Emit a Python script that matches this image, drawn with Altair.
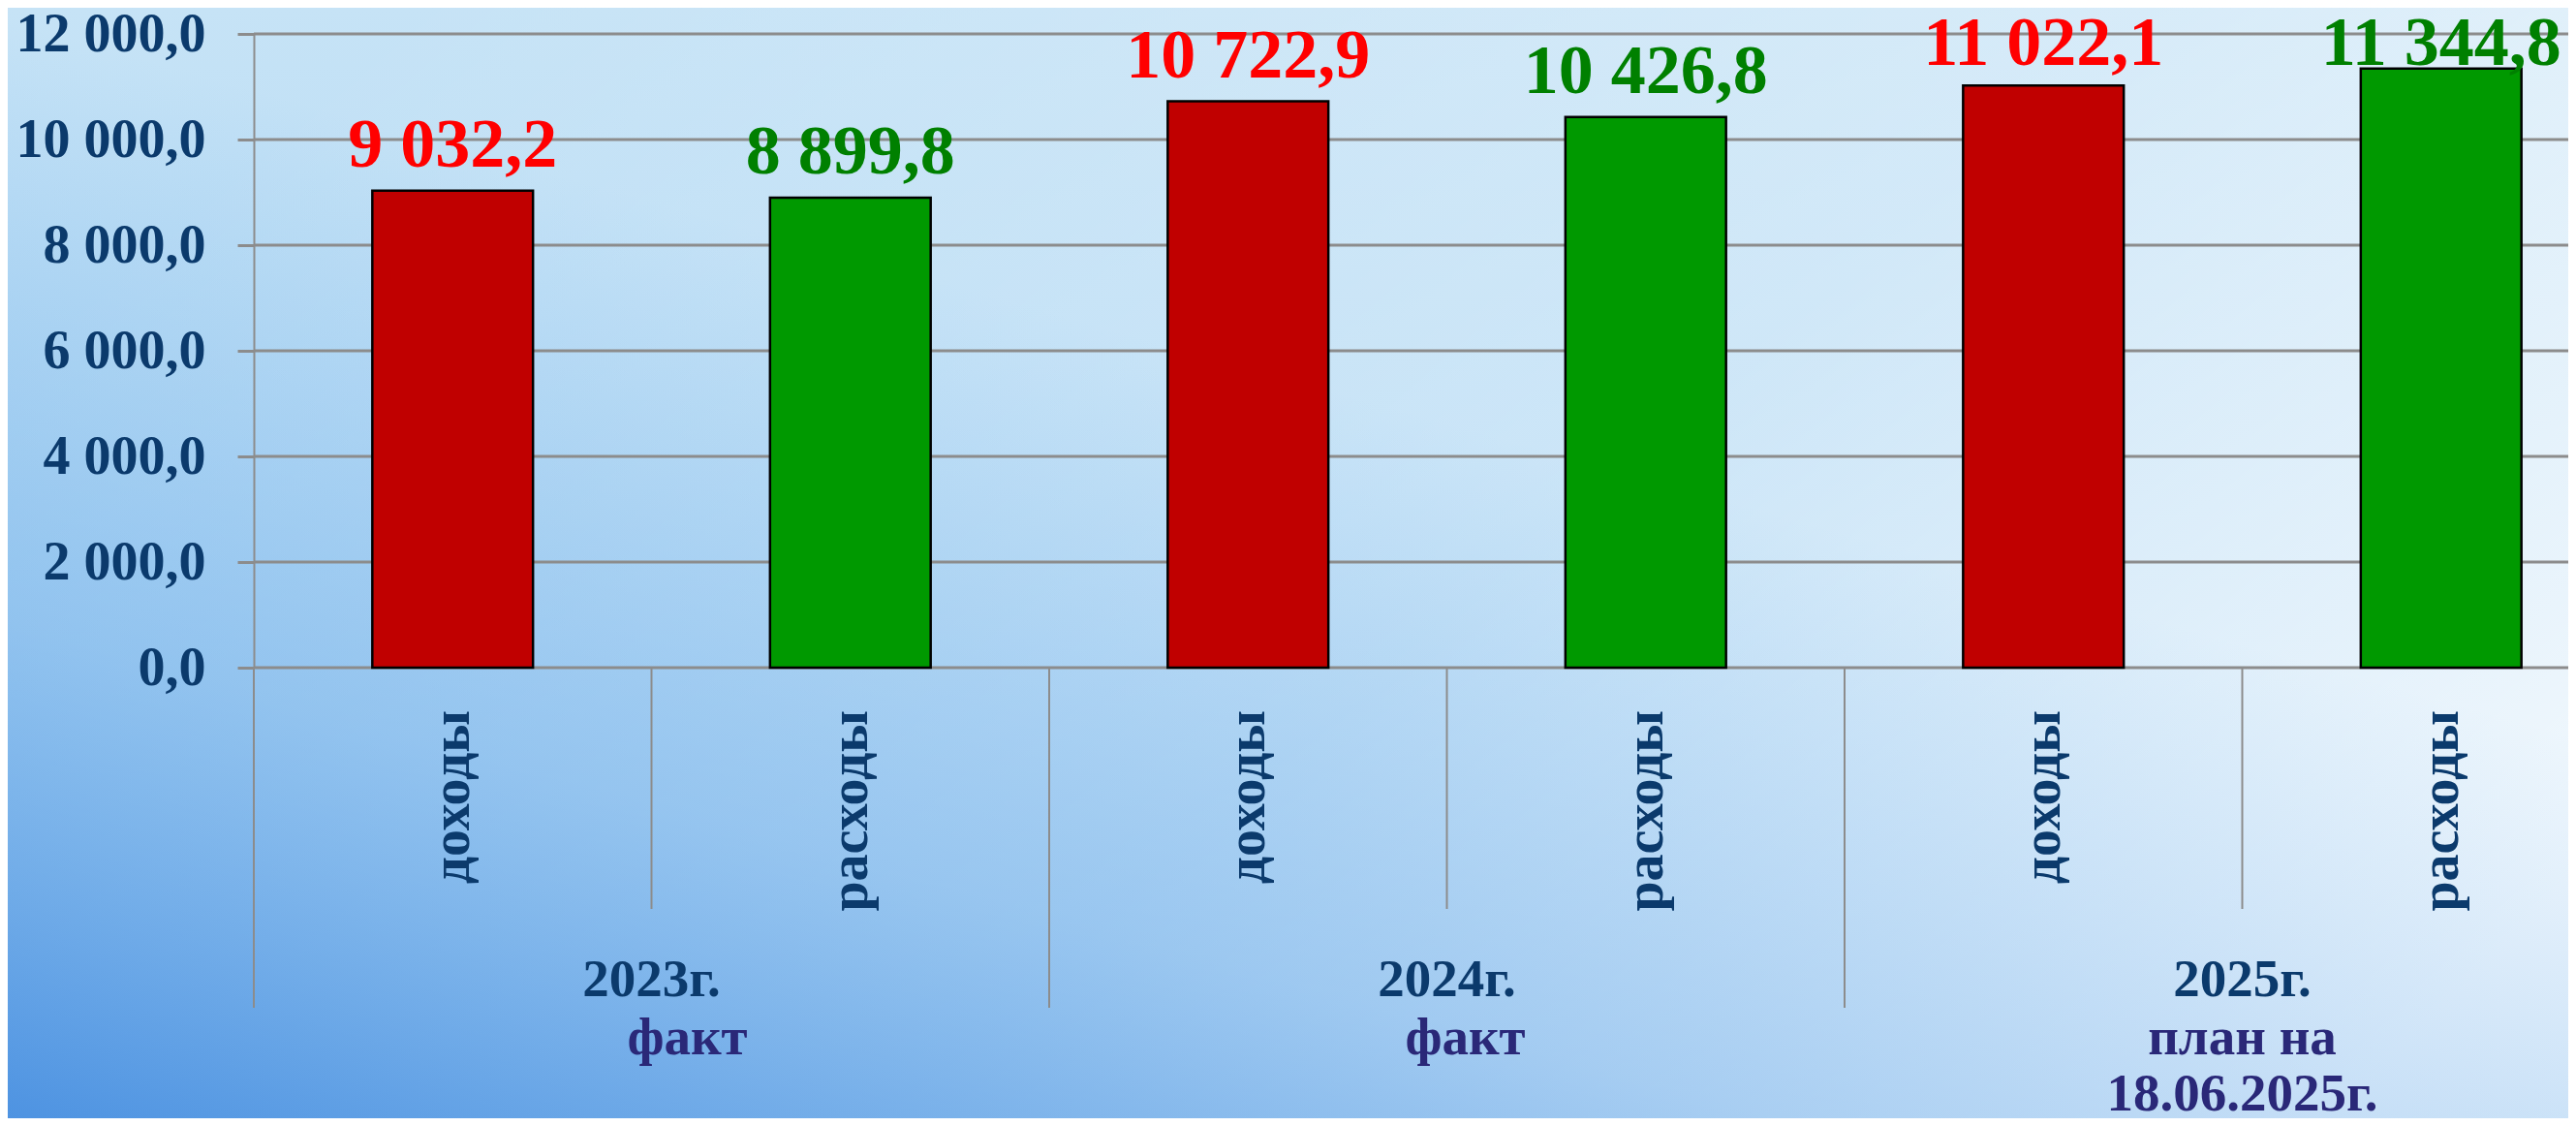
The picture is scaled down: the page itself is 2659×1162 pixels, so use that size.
import altair as alt
import pandas as pd

# ---- data ----
years = ["2023г.", "2024г.", "2025г."]
year_sub = ["факт", "факт", "план на\n18.06.2025г."]
sub_shift = [37, 19, 0]
types = ["доходы", "расходы"]
values = [9032.2, 8899.8, 10722.9, 10426.8, 11022.1, 11344.8]
y_ticks = [0, 2000, 4000, 6000, 8000, 10000, 12000]

rows = []
for i, v in enumerate(values):
    yr = years[i // 2]
    tp = types[i % 2]
    rows.append({
        "key": f"{yr} {tp}",
        "year": yr,
        "type": tp,
        "value": v,
        "label": f"{v:,.1f}".replace(",", " ").replace(".", ","),
        "first": bool(i % 2 == 0),
    })
df = pd.DataFrame(rows)
order = list(df["key"])
groups = pd.DataFrame({"key": [order[2 * i] for i in range(len(years))],
                       "year": years, "sub": year_sub})
grid_df = pd.DataFrame({"tick": y_ticks})
one = pd.DataFrame({"a": [0]})

W, H = 2389, 654
FONT = "Liberation Serif"
NAVY = "#0b3a6c"
INDIGO = "#2a2878"
GRAY = "#8c8c8c"

x_scale = alt.Scale(range=[0, 2463], paddingInner=0, paddingOuter=0)
X = alt.X("key:N", sort=order, scale=x_scale, axis=None)
y_scale = alt.Scale(domain=[0, 12000], nice=False)
Y_AXIS = alt.Axis(values=y_ticks, grid=False, zindex=1, title=None, labelLimit=500,
                  labelExpr="datum.value == 0 ? '0,0' : format(datum.value/1000, 'd') + ' 000,0'")

# ---- background ----
def bg(grad):
    return alt.Chart(one).mark_rect(color=grad).encode(
        x=alt.value(-254), x2=alt.value(W), y=alt.value(-27), y2=alt.value(1119)
    )

bg1 = bg(alt.LinearGradient(gradient="linear", x1=0, y1=0, x2=0, y2=1, stops=[
    alt.GradientStop(color="#c6e3f6", offset=0),
    alt.GradientStop(color="#b3d9f4", offset=0.5),
    alt.GradientStop(color="#a4cff2", offset=1)]))
bg2 = bg(alt.LinearGradient(gradient="linear", x1=0, y1=0.3, x2=1, y2=0.8, stops=[
    alt.GradientStop(color="rgba(255,255,255,0)", offset=0),
    alt.GradientStop(color="rgba(255,255,255,0.3)", offset=0.55),
    alt.GradientStop(color="rgba(255,255,255,0.85)", offset=1)]))
bg3 = bg(alt.LinearGradient(gradient="linear", x1=0, y1=1, x2=0.45, y2=0.3, stops=[
    alt.GradientStop(color="rgba(60,135,222,0.85)", offset=0),
    alt.GradientStop(color="rgba(90,160,230,0.4)", offset=0.45),
    alt.GradientStop(color="rgba(100,170,235,0)", offset=1)]))

# ---- gridlines (drawn as rules so that they lie under the bars) ----
grid = alt.Chart(grid_df).mark_rule(color=GRAY, strokeWidth=3).encode(
    y=alt.Y("tick:Q", scale=y_scale, axis=Y_AXIS),
    x=alt.value(0), x2=alt.value(W + 20),
)

base = alt.Chart(df)

bars = base.mark_bar(width={"band": 0.404}, stroke="black", strokeWidth=2.5).encode(
    x=X,
    y=alt.Y("value:Q", scale=y_scale, axis=Y_AXIS),
    color=alt.Color("type:N", scale=alt.Scale(domain=types, range=["#c00000", "#009900"]), legend=None),
)

vlabels = base.transform_calculate(
    lab="min(datum.value + 460, 11420)"
).mark_text(font=FONT, fontSize=72, fontWeight="bold", baseline="alphabetic", align="center").encode(
    x=X,
    y=alt.Y("lab:Q", scale=y_scale, axis=Y_AXIS),
    text="label:N",
    color=alt.Color("type:N", scale=alt.Scale(domain=types, range=["#ff0000", "#008000"]), legend=None),
)

cat_labels = base.mark_text(font=FONT, fontSize=56, fontWeight="bold", angle=270,
                            align="right", baseline="middle", color=NAVY).encode(
    x=X, y=alt.value(H + 44), text="type:N",
)

sep_year = base.transform_filter("datum.first").mark_rule(color=GRAY, strokeWidth=2).encode(
    x=alt.X("key:N", sort=order, scale=x_scale, axis=None, bandPosition=0),
    y=alt.value(H), y2=alt.value(1005),
)
sep_inner = base.transform_filter("!datum.first").mark_rule(color=GRAY, strokeWidth=2).encode(
    x=alt.X("key:N", sort=order, scale=x_scale, axis=None, bandPosition=0),
    y=alt.value(H), y2=alt.value(903),
)

year_labels = alt.Chart(groups).mark_text(font=FONT, fontSize=55, fontWeight="bold",
                                          baseline="alphabetic", align="center", color=NAVY).encode(
    x=alt.X("key:N", sort=order, scale=x_scale, axis=None, bandPosition=1),
    y=alt.value(993), text="year:N",
)

sub_layers = []
for yr, shift in zip(years, sub_shift):
    sub_layers.append(
        alt.Chart(groups).transform_filter(alt.datum.year == yr).mark_text(
            font=FONT, fontSize=55, fontWeight="bold", lineBreak="\n", lineHeight=58,
            baseline="alphabetic", align="center", color=INDIGO, dx=shift,
        ).encode(
            x=alt.X("key:N", sort=order, scale=x_scale, axis=None, bandPosition=1),
            y=alt.value(1053), text="sub:N",
        )
    )

chart = alt.layer(
    bg1, bg2, bg3, grid, bars, vlabels, cat_labels, sep_year, sep_inner, year_labels, *sub_layers
).resolve_scale(color="independent").properties(
    width=W, height=H,
    autosize=alt.AutoSizeParams(type="none"),
    padding={"left": 254, "top": 27, "right": 0, "bottom": 465},
    background="#c6e3f6",
).configure_view(strokeWidth=0).configure_axisY(
    labelFont=FONT, labelFontSize=56, labelFontWeight="bold", labelColor=NAVY,
    labelPadding=33, tickSize=17, tickColor=GRAY, tickWidth=3,
    domainColor=GRAY, domainWidth=2,
)

chart.save("out.html", embed_options={"renderer": "svg", "actions": False})
